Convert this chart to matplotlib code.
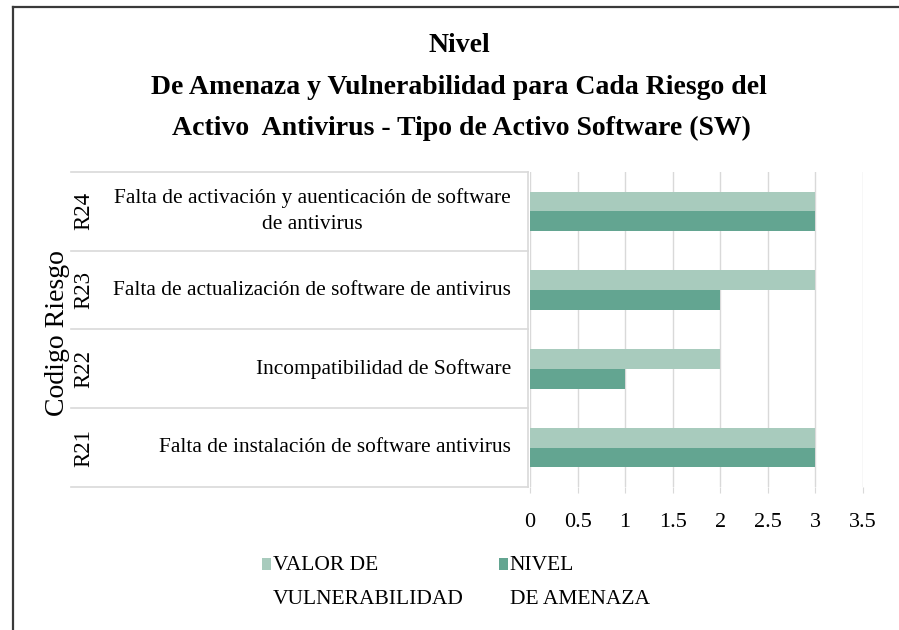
import numpy as np
import matplotlib
matplotlib.use("Agg")
import matplotlib.pyplot as plt
from matplotlib.lines import Line2D
from matplotlib.patches import Rectangle
from matplotlib.legend_handler import HandlerPatch
from matplotlib.container import BarContainer
from matplotlib.transforms import blended_transform_factory

plt.rcParams['font.family'] = ['Liberation Serif', 'DejaVu Serif']

# data (bottom to top)
codes = ["R21", "R22", "R23", "R24"]
riesgos = [
    "Falta de instalación de software antivirus",
    "Incompatibilidad de Software",
    "Falta de actualización de software de antivirus",
    "Falta de activación y auenticación de software\nde antivirus",
]
vulnerabilidad = [3, 2, 3, 3]
amenaza = [3, 1, 2, 3]
x_ticks = [0, 0.5, 1, 1.5, 2, 2.5, 3, 3.5]
x_labels = ["0", "0.5", "1", "1.5", "2", "2.5", "3", "3.5"]

c_light = "#a8cbbd"
c_dark = "#63a591"
grid_c = "#d9d9d9"

W, H = 899, 630
fig = plt.figure(figsize=(W / 100, H / 100), dpi=100)

def fx(px):
    return px / W

def fy(py):
    return 1 - py / H

ax = fig.add_axes([fx(530), fy(487), fx(863) - fx(530), fy(172) - fy(487)])

y = np.arange(len(codes))
h = 0.25
ax.barh(y + h / 2, vulnerabilidad, height=h, color=c_light, label="VALOR DE\nVULNERABILIDAD", zorder=3)
ax.barh(y - h / 2, amenaza, height=h, color=c_dark, label="NIVEL\nDE AMENAZA", zorder=3)

ax.set_xlim(0, 3.5)
ax.set_ylim(-0.5, len(codes) - 0.5)
ax.set_xticks(x_ticks)
ax.set_xticklabels(x_labels, fontsize=16)
ax.set_yticks([])
ax.grid(axis="x", color=grid_c, linewidth=1, zorder=0)
for s in ax.spines.values():
    s.set_visible(False)
ax.tick_params(axis="x", length=4, color=grid_c, pad=15)

# category labels area (multi-level axis)
tr = blended_transform_factory(fig.transFigure, ax.transData)
for i in range(len(codes)):
    ax.text(fx(511), i, riesgos[i], transform=tr, ha="right", va="center",
            multialignment="center", fontsize=15.4, linespacing=1.5, clip_on=False)
    ax.text(fx(84), i, codes[i], transform=tr, ha="center", va="center",
            rotation=90, fontsize=16.5, clip_on=False)
for b in np.arange(len(codes) + 1) - 0.5:
    ax.plot([fx(71), fx(528)], [b, b], transform=tr, color=grid_c,
            linewidth=1.2, clip_on=False)
ax.plot([fx(528), fx(528)], [-0.5, len(codes) - 0.5], transform=tr,
        color=grid_c, linewidth=1.2, clip_on=False)
ax.text(fx(57), (len(codes) - 1) / 2 - 0.05, "Codigo Riesgo", transform=tr, ha="center",
        va="center", rotation=90, fontsize=20, clip_on=False)

# title
fig.text(fx(459), fy(46), "Nivel", ha="center", va="center", fontsize=20, fontweight="bold")
fig.text(fx(459), fy(88), "De Amenaza y Vulnerabilidad para Cada Riesgo del",
         ha="center", va="center", fontsize=20, fontweight="bold")
fig.text(fx(461), fy(128), "Activo  Antivirus - Tipo de Activo Software (SW)",
         ha="center", va="center", fontsize=20, fontweight="bold")

# legend: square marker next to the first line of each label
LEG_FS = 15.5
LEG_LS = 2.1
shift = 13

def top_square(legend, orig_handle, xdescent, ydescent, width, height, fontsize):
    return Rectangle((-xdescent, -ydescent + shift), width, height)

def from_first_bar(handle, orig):
    handle.update_from(orig.patches[0])

leg = fig.legend(loc="upper left", bbox_to_anchor=(fx(262), fy(556)), ncol=2, frameon=False,
                 fontsize=LEG_FS, handlelength=0.42, handleheight=0.42, handletextpad=0.1,
                 columnspacing=1.6, borderpad=0, borderaxespad=0, labelspacing=0,
                 handler_map={BarContainer: HandlerPatch(patch_func=top_square,
                                                         update_func=from_first_bar)})
for t in leg.get_texts():
    t.set_linespacing(LEG_LS)

# outer frame (top and left edges)
fig.add_artist(Line2D([fx(13), 1], [fy(7), fy(7)], color="#3a3a3a", linewidth=1.6))
fig.add_artist(Line2D([fx(13), fx(13)], [fy(7), 0], color="#3a3a3a", linewidth=1.6))

fig.savefig("out.png", dpi=100)
